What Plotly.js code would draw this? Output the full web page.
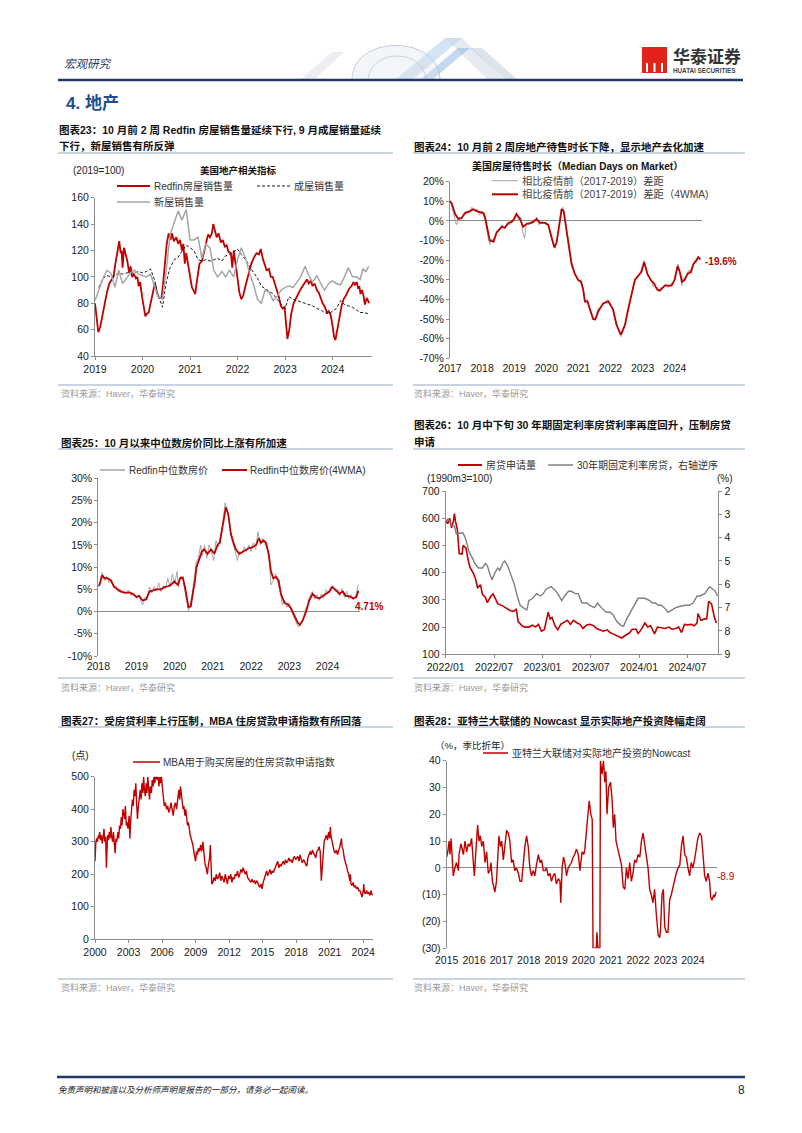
<!DOCTYPE html>
<html><head><meta charset="utf-8">
<script src="https://cdn.plot.ly/plotly-3.0.1.min.js"></script>
<style>html,body{margin:0;padding:0;background:#fff}#page{width:802px;height:1133px}</style>
</head><body><div id="page"></div>
<script>
// ---------------- DATA ----------------
// Chart 23 (2019=100)
const c23Years = [2019,2020,2021,2022,2023,2024];
const c23YTicks = [40,60,80,100,120,140,160];
const redfinSales = [[2019.00,80],[2019.04,65],[2019.07,58],[2019.11,62],[2019.14,68],[2019.19,78],[2019.25,88],[2019.30,95],[2019.35,98],[2019.39,100],[2019.42,108],[2019.46,116],[2019.49,122],[2019.51,127],[2019.54,118],[2019.56,120],[2019.58,107],[2019.61,122],[2019.64,118],[2019.68,112],[2019.72,103],[2019.75,108],[2019.78,100],[2019.82,102],[2019.86,99],[2019.89,100],[2019.92,93],[2019.95,96],[2019.99,85],[2020.03,75],[2020.06,70],[2020.09,72],[2020.13,73],[2020.17,80],[2020.21,88],[2020.26,95],[2020.28,92],[2020.31,87],[2020.35,84],[2020.40,84],[2020.42,90],[2020.47,110],[2020.51,125],[2020.55,133],[2020.59,128],[2020.62,133],[2020.66,127],[2020.71,130],[2020.75,125],[2020.79,128],[2020.83,120],[2020.86,125],[2020.89,110],[2020.92,118],[2020.96,110],[2021.00,100],[2021.04,92],[2021.07,90],[2021.11,87],[2021.15,98],[2021.20,110],[2021.25,112],[2021.29,118],[2021.34,125],[2021.38,132],[2021.42,130],[2021.46,133],[2021.49,140],[2021.53,133],[2021.56,130],[2021.60,133],[2021.65,126],[2021.69,128],[2021.73,123],[2021.77,124],[2021.81,119],[2021.86,118],[2021.89,107],[2021.92,120],[2021.95,112],[2021.99,98],[2022.04,88],[2022.08,83],[2022.12,86],[2022.18,95],[2022.24,103],[2022.29,110],[2022.35,115],[2022.40,118],[2022.45,117],[2022.49,121],[2022.53,114],[2022.57,110],[2022.61,105],[2022.66,106],[2022.70,100],[2022.74,100],[2022.78,95],[2022.82,92],[2022.87,85],[2022.91,78],[2022.95,76],[2022.99,77],[2023.02,62],[2023.05,53],[2023.09,60],[2023.13,72],[2023.18,80],[2023.23,84],[2023.29,88],[2023.35,92],[2023.40,95],[2023.46,98],[2023.50,95],[2023.54,97],[2023.58,93],[2023.62,95],[2023.67,90],[2023.71,88],[2023.75,84],[2023.79,80],[2023.84,77],[2023.88,73],[2023.92,74],[2023.96,71],[2024.00,63],[2024.03,55],[2024.06,52],[2024.10,60],[2024.14,70],[2024.19,78],[2024.23,83],[2024.27,85],[2024.31,88],[2024.35,91],[2024.40,93],[2024.44,96],[2024.47,94],[2024.51,96],[2024.54,91],[2024.56,93],[2024.59,87],[2024.62,90],[2024.65,86],[2024.68,79],[2024.72,84],[2024.75,82],[2024.77,80]];
const existingSales = [[2019.08,92],[2019.17,99],[2019.25,101],[2019.33,100],[2019.42,101],[2019.50,103],[2019.58,102],[2019.67,103],[2019.75,103],[2019.83,103],[2019.92,104],[2020.00,103],[2020.08,104],[2020.17,106],[2020.25,98],[2020.33,86],[2020.42,77],[2020.50,96],[2020.58,107],[2020.67,113],[2020.75,115],[2020.83,119],[2020.92,124],[2021.00,122],[2021.08,120],[2021.17,113],[2021.25,112],[2021.33,113],[2021.42,112],[2021.50,113],[2021.58,114],[2021.67,112],[2021.75,116],[2021.83,117],[2021.92,119],[2022.00,121],[2022.08,117],[2022.17,113],[2022.25,108],[2022.33,104],[2022.42,99],[2022.50,93],[2022.58,91],[2022.67,89],[2022.75,87],[2022.83,83],[2022.92,79],[2023.00,76],[2023.08,85],[2023.17,83],[2023.25,82],[2023.33,81],[2023.42,80],[2023.50,79],[2023.58,78],[2023.67,76],[2023.75,75],[2023.83,73],[2023.92,72],[2024.00,74],[2024.08,76],[2024.17,82],[2024.25,79],[2024.33,78],[2024.42,77],[2024.50,75],[2024.58,73],[2024.67,73],[2024.75,72]];
const newSales = [[2019.00,82],[2019.08,90],[2019.17,99],[2019.25,105],[2019.33,103],[2019.42,92],[2019.50,105],[2019.58,95],[2019.67,99],[2019.75,103],[2019.83,105],[2019.92,102],[2020.00,101],[2020.08,100],[2020.17,102],[2020.25,93],[2020.33,85],[2020.42,83],[2020.50,105],[2020.58,132],[2020.67,142],[2020.75,150],[2020.83,143],[2020.92,151],[2021.00,128],[2021.08,128],[2021.17,130],[2021.25,114],[2021.33,125],[2021.42,122],[2021.50,105],[2021.58,100],[2021.67,104],[2021.75,100],[2021.83,105],[2021.92,100],[2022.00,113],[2022.08,122],[2022.17,114],[2022.25,103],[2022.33,95],[2022.42,83],[2022.50,80],[2022.58,90],[2022.67,88],[2022.75,82],[2022.83,85],[2022.92,90],[2023.00,92],[2023.08,93],[2023.17,92],[2023.25,96],[2023.33,100],[2023.42,108],[2023.50,101],[2023.58,96],[2023.67,101],[2023.75,95],[2023.83,90],[2023.92,95],[2024.00,97],[2024.08,95],[2024.17,94],[2024.25,100],[2024.33,107],[2024.42,100],[2024.50,100],[2024.58,98],[2024.64,106],[2024.70,104],[2024.76,108]];

// Chart 24 (% gap vs 2017-2019)
const c24Years = [2017,2018,2019,2020,2021,2022,2023,2024];
const c24YTicks = [-70,-60,-50,-40,-30,-20,-10,0,10,20];
const domRaw = [[2017.00,11],[2017.08,6],[2017.13,2],[2017.20,-2],[2017.28,2],[2017.36,1],[2017.44,4],[2017.52,5],[2017.60,4],[2017.68,7],[2017.76,5],[2017.84,6],[2017.92,3],[2018.00,5],[2018.06,2],[2018.12,-2],[2018.18,-8],[2018.24,-12],[2018.30,-9],[2018.38,-11],[2018.46,-5],[2018.54,-4],[2018.62,-2],[2018.70,-4],[2018.78,-1],[2018.86,-2],[2018.94,0],[2019.02,2],[2019.08,4],[2019.14,0],[2019.20,2],[2019.26,-5],[2019.32,-9],[2019.38,-1],[2019.46,-2],[2019.54,0],[2019.62,-1],[2019.70,2],[2019.78,-2],[2019.86,0],[2019.94,-1],[2020.02,-1],[2020.10,-4],[2020.16,-9],[2020.22,-12],[2020.28,-14],[2020.34,-9],[2020.40,-1],[2020.46,6],[2020.52,7],[2020.58,2],[2020.64,-7],[2020.70,-14],[2020.78,-23],[2020.86,-26],[2020.94,-29],[2021.02,-31],[2021.10,-30],[2021.16,-36],[2021.22,-42],[2021.28,-40],[2021.36,-46],[2021.44,-49],[2021.52,-51],[2021.60,-45],[2021.70,-44],[2021.80,-42],[2021.90,-40],[2022.00,-42],[2022.08,-46],[2022.16,-52],[2022.24,-55],[2022.32,-59],[2022.40,-56],[2022.48,-51],[2022.56,-44],[2022.64,-39],[2022.72,-32],[2022.80,-29],[2022.88,-28],[2022.96,-25],[2023.04,-20],[2023.10,-24],[2023.16,-28],[2023.24,-29],[2023.32,-33],[2023.40,-34],[2023.48,-36],[2023.56,-34],[2023.64,-34],[2023.72,-32],[2023.80,-34],[2023.88,-32],[2023.96,-31],[2024.04,-26],[2024.10,-22],[2024.16,-27],[2024.22,-33],[2024.28,-29],[2024.36,-28],[2024.44,-25],[2024.52,-27],[2024.60,-21],[2024.68,-21],[2024.74,-18],[2024.80,-20]];
const dom4wma = [[2017.00,10],[2017.05,9],[2017.16,3.5],[2017.26,1],[2017.36,1.5],[2017.47,4],[2017.62,5],[2017.73,6],[2017.83,5],[2017.93,4.5],[2018.04,4],[2018.09,2],[2018.17,-5],[2018.24,-10],[2018.35,-10.5],[2018.45,-6],[2018.61,-3],[2018.71,-3.5],[2018.82,-1],[2018.92,-0.5],[2019.00,1],[2019.07,3.5],[2019.18,1],[2019.28,-3],[2019.39,-1.5],[2019.54,-1],[2019.70,1],[2019.80,-1],[2019.96,-1],[2020.06,-2],[2020.16,-8],[2020.25,-13.5],[2020.32,-11],[2020.39,-3],[2020.48,6],[2020.54,5],[2020.63,-5],[2020.71,-15],[2020.79,-22],[2020.89,-27],[2020.99,-30],[2021.08,-31],[2021.15,-35],[2021.20,-41],[2021.28,-41],[2021.36,-45],[2021.46,-50],[2021.53,-50],[2021.62,-46],[2021.77,-42],[2021.93,-41],[2022.08,-45],[2022.19,-53],[2022.32,-58],[2022.45,-53],[2022.55,-45],[2022.65,-38],[2022.76,-30],[2022.86,-28],[2022.96,-26],[2023.05,-21],[2023.15,-27],[2023.25,-30],[2023.36,-32],[2023.46,-35],[2023.54,-35.5],[2023.69,-33],[2023.90,-33],[2024.00,-30],[2024.09,-23],[2024.16,-26],[2024.23,-31],[2024.31,-30],[2024.40,-27],[2024.50,-26],[2024.58,-22],[2024.68,-20],[2024.73,-18.5],[2024.80,-19.6]];

// Chart 25 (median price YoY, %)
const c25Years = [2018,2019,2020,2021,2022,2023,2024];
const c25YTicks = [-10,-5,0,5,10,15,20,25,30];
const priceRaw = [[2018.00,5.5],[2018.06,7],[2018.10,8.8],[2018.16,7],[2018.22,8],[2018.28,6.5],[2018.34,7.2],[2018.40,5.5],[2018.46,5.8],[2018.52,4.5],[2018.58,5],[2018.66,4],[2018.74,4.6],[2018.80,4.8],[2018.86,3.6],[2018.92,4.2],[2019.00,3],[2019.06,3.8],[2019.12,2.2],[2019.16,1.5],[2019.22,3.2],[2019.28,3],[2019.34,5.5],[2019.40,4.2],[2019.46,5.6],[2019.52,4.6],[2019.58,6.5],[2019.64,4.5],[2019.70,5.8],[2019.76,5.2],[2019.82,7.5],[2019.88,5.5],[2019.94,8.5],[2020.00,6.2],[2020.06,9],[2020.10,5.5],[2020.16,8],[2020.22,7],[2020.27,4.5],[2020.31,2.5],[2020.36,0.2],[2020.41,1.8],[2020.46,4],[2020.52,8],[2020.56,11],[2020.62,12],[2020.68,15],[2020.72,12.5],[2020.78,15],[2020.84,12],[2020.90,15],[2020.96,13.5],[2021.02,11.5],[2021.08,16],[2021.14,14.5],[2021.20,17],[2021.26,20],[2021.32,24.5],[2021.36,23],[2021.42,21],[2021.48,16.5],[2021.54,15],[2021.60,13],[2021.64,11.5],[2021.70,13.5],[2021.76,13],[2021.82,14.5],[2021.88,13.5],[2021.94,15],[2022.00,13.5],[2022.06,15.5],[2022.12,14],[2022.18,18],[2022.24,15],[2022.30,16.5],[2022.36,15],[2022.42,14.5],[2022.48,11],[2022.52,6],[2022.58,7],[2022.64,8.5],[2022.70,6.5],[2022.76,4.5],[2022.82,1.5],[2022.88,2.5],[2022.94,1],[2023.00,2],[2023.06,0],[2023.12,-1.5],[2023.18,-2.5],[2023.24,-3.5],[2023.30,-2.5],[2023.36,-2],[2023.42,0.5],[2023.48,1.5],[2023.54,3.5],[2023.60,4.5],[2023.66,2.8],[2023.72,3.8],[2023.78,2.5],[2023.84,4],[2023.90,3],[2023.96,5],[2024.02,4.2],[2024.08,5.5],[2024.14,5.8],[2024.20,4.5],[2024.26,5],[2024.32,3.5],[2024.38,5.2],[2024.44,3.2],[2024.50,4.6],[2024.56,2.8],[2024.62,3.8],[2024.68,2.6],[2024.74,3.5],[2024.80,6]];
const price4wma = [[2018.00,5.8],[2018.03,6],[2018.10,8.2],[2018.16,7.5],[2018.24,7.5],[2018.33,7],[2018.42,5.5],[2018.51,5],[2018.59,4.5],[2018.72,4.2],[2018.81,4.3],[2018.90,4],[2019.00,3.3],[2019.07,3.5],[2019.16,2.5],[2019.25,2.7],[2019.34,4.5],[2019.42,4.7],[2019.51,5],[2019.64,5],[2019.73,5.5],[2019.82,5.7],[2019.90,6],[2019.99,6.8],[2020.08,6],[2020.14,7.5],[2020.21,7.7],[2020.27,5.5],[2020.31,3],[2020.36,1],[2020.42,1.2],[2020.47,3.5],[2020.53,7],[2020.57,10],[2020.64,12],[2020.71,13.5],[2020.77,14],[2020.86,13],[2020.95,14],[2021.04,13],[2021.12,15],[2021.18,15.5],[2021.25,19],[2021.34,23.5],[2021.40,22],[2021.47,17.5],[2021.54,15.5],[2021.60,14],[2021.69,13],[2021.78,13.5],[2021.87,14],[2021.95,14.3],[2022.04,14.5],[2022.13,15],[2022.20,16.5],[2022.26,15.5],[2022.33,16],[2022.39,15.5],[2022.46,13],[2022.52,9],[2022.58,7.5],[2022.65,7.8],[2022.72,7],[2022.78,4],[2022.87,2],[2022.96,1.6],[2023.04,0.8],[2023.13,-1],[2023.22,-2.5],[2023.28,-3],[2023.35,-2],[2023.44,0],[2023.52,2.5],[2023.61,4],[2023.70,3.2],[2023.79,3],[2023.87,3.5],[2023.96,4],[2024.05,4.5],[2024.12,5.5],[2024.20,5],[2024.31,4],[2024.40,4.5],[2024.48,3.5],[2024.57,3.5],[2024.66,3],[2024.75,3.2],[2024.81,4.71]];

// Chart 26 (applications 1990m3=100; 30y fixed rate %, right axis reversed)
const c26Ticks = [2022,2022.5,2023,2023.5,2024,2024.5];
const c26TickText = ['2022/01','2022/07','2023/01','2023/07','2024/01','2024/07'];
const c26LeftTicks = [100,200,300,400,500,600,700];
const c26RightTicks = [2,3,4,5,6,7,8,9];
const mortgageApps = [[2022.00,590],[2022.02,580],[2022.04,600],[2022.06,565],[2022.08,590],[2022.09,617],[2022.10,590],[2022.12,560],[2022.14,470],[2022.17,468],[2022.18,500],[2022.21,490],[2022.23,450],[2022.25,420],[2022.29,395],[2022.31,375],[2022.33,345],[2022.36,355],[2022.38,320],[2022.41,310],[2022.43,290],[2022.47,315],[2022.49,322],[2022.52,300],[2022.54,285],[2022.59,278],[2022.63,270],[2022.67,260],[2022.70,258],[2022.73,265],[2022.75,220],[2022.79,205],[2022.82,200],[2022.86,200],[2022.90,207],[2022.93,200],[2022.96,210],[2022.99,185],[2023.02,190],[2023.06,255],[2023.08,230],[2023.10,235],[2023.13,205],[2023.16,190],[2023.19,210],[2023.23,220],[2023.26,225],[2023.29,210],[2023.32,225],[2023.36,215],[2023.39,210],[2023.42,195],[2023.46,208],[2023.49,210],[2023.53,205],[2023.56,195],[2023.60,190],[2023.63,185],[2023.67,190],[2023.70,180],[2023.73,175],[2023.79,165],[2023.82,160],[2023.86,170],[2023.90,178],[2023.93,192],[2023.97,192],[2023.99,175],[2024.03,195],[2024.06,215],[2024.09,200],[2024.12,205],[2024.16,175],[2024.19,200],[2024.23,198],[2024.27,195],[2024.31,200],[2024.34,192],[2024.38,195],[2024.41,200],[2024.44,180],[2024.47,210],[2024.50,208],[2024.54,210],[2024.57,205],[2024.60,215],[2024.61,250],[2024.64,225],[2024.68,230],[2024.70,230],[2024.72,295],[2024.75,285],[2024.78,235],[2024.80,215]];
const mortgageRate = [[2022.00,3.3],[2022.02,3.2],[2022.04,3.3],[2022.06,3.5],[2022.09,3.5],[2022.11,3.85],[2022.15,3.8],[2022.18,3.8],[2022.21,4.1],[2022.24,4.6],[2022.28,4.9],[2022.30,5.1],[2022.34,5.3],[2022.38,5.3],[2022.41,5.1],[2022.43,5.2],[2022.46,5.6],[2022.48,5.8],[2022.51,5.5],[2022.54,5.3],[2022.56,5.4],[2022.59,5.1],[2022.61,5.0],[2022.64,5.2],[2022.68,5.65],[2022.71,6.0],[2022.74,6.5],[2022.77,6.9],[2022.80,7.0],[2022.84,7.1],[2022.86,6.7],[2022.90,6.6],[2022.94,6.4],[2022.98,6.5],[2023.01,6.4],[2023.04,6.2],[2023.09,6.1],[2023.12,6.2],[2023.16,6.4],[2023.20,6.7],[2023.23,6.5],[2023.27,6.3],[2023.30,6.3],[2023.34,6.4],[2023.37,6.4],[2023.41,6.8],[2023.46,6.8],[2023.49,6.9],[2023.54,7.0],[2023.57,6.8],[2023.61,7.0],[2023.66,7.2],[2023.70,7.2],[2023.73,7.3],[2023.77,7.6],[2023.81,7.75],[2023.84,7.8],[2023.87,7.5],[2023.91,7.2],[2023.95,6.9],[2023.99,6.6],[2024.03,6.6],[2024.06,6.6],[2024.11,6.7],[2024.14,6.8],[2024.17,6.8],[2024.20,6.9],[2024.23,6.9],[2024.26,7.0],[2024.30,7.2],[2024.34,7.1],[2024.38,7.0],[2024.42,6.95],[2024.48,6.9],[2024.52,6.9],[2024.56,6.8],[2024.60,6.5],[2024.63,6.5],[2024.68,6.4],[2024.71,6.2],[2024.73,6.1],[2024.76,6.2],[2024.79,6.3],[2024.81,6.5]];

// Chart 27 (MBA purchase index, points)
const c27Years = [2000,2003,2006,2009,2012,2015,2018,2021,2024];
const c27YTicks = [0,100,200,300,400,500];
const mbaPurchase = [[2000.00,240],[2000.03,290],[2000.08,300],[2000.15,310],[2000.22,300],[2000.30,320],[2000.35,310],[2000.42,330],[2000.50,305],[2000.58,320],[2000.65,295],[2000.72,310],[2000.80,340],[2000.88,300],[2000.95,315],[2001.02,220],[2001.06,300],[2001.12,320],[2001.20,305],[2001.28,330],[2001.35,310],[2001.42,345],[2001.50,315],[2001.58,300],[2001.65,330],[2001.72,290],[2001.80,265],[2001.88,310],[2001.95,300],[2002.05,330],[2002.12,310],[2002.20,350],[2002.28,340],[2002.35,375],[2002.42,350],[2002.50,400],[2002.58,380],[2002.65,370],[2002.72,410],[2002.80,350],[2002.88,360],[2002.95,340],[2003.05,380],[2003.12,310],[2003.20,370],[2003.28,400],[2003.35,430],[2003.42,410],[2003.50,460],[2003.58,440],[2003.65,480],[2003.72,420],[2003.80,370],[2003.88,410],[2003.95,440],[2004.05,460],[2004.12,430],[2004.20,480],[2004.28,450],[2004.35,500],[2004.42,460],[2004.50,440],[2004.58,480],[2004.65,450],[2004.72,500],[2004.80,460],[2004.88,430],[2004.95,470],[2005.05,450],[2005.12,490],[2005.20,470],[2005.28,500],[2005.35,480],[2005.42,500],[2005.50,500],[2005.58,490],[2005.65,500],[2005.72,470],[2005.80,500],[2005.88,480],[2005.95,500],[2006.05,460],[2006.12,430],[2006.20,410],[2006.30,420],[2006.40,400],[2006.50,410],[2006.60,390],[2006.70,400],[2006.80,420],[2006.90,400],[2007.00,380],[2007.10,410],[2007.20,420],[2007.30,400],[2007.40,440],[2007.50,460],[2007.58,430],[2007.65,470],[2007.72,450],[2007.80,420],[2007.88,400],[2007.95,410],[2008.05,380],[2008.12,400],[2008.20,370],[2008.28,350],[2008.36,360],[2008.44,330],[2008.52,320],[2008.60,310],[2008.68,300],[2008.76,290],[2008.84,270],[2008.92,250],[2009.00,240],[2009.08,270],[2009.16,260],[2009.25,280],[2009.35,270],[2009.45,290],[2009.55,270],[2009.65,300],[2009.75,260],[2009.85,230],[2009.95,220],[2010.05,200],[2010.15,230],[2010.25,250],[2010.32,290],[2010.40,200],[2010.45,170],[2010.55,175],[2010.65,190],[2010.75,180],[2010.85,200],[2010.95,185],[2011.05,190],[2011.15,205],[2011.25,180],[2011.35,195],[2011.45,185],[2011.55,175],[2011.65,200],[2011.75,180],[2011.85,170],[2011.95,195],[2012.05,185],[2012.15,200],[2012.25,175],[2012.35,190],[2012.45,185],[2012.55,200],[2012.65,195],[2012.75,210],[2012.85,190],[2012.95,200],[2013.05,215],[2013.15,205],[2013.25,220],[2013.35,210],[2013.45,200],[2013.55,210],[2013.65,190],[2013.75,185],[2013.85,180],[2013.95,175],[2014.05,185],[2014.15,175],[2014.25,180],[2014.35,170],[2014.45,180],[2014.55,175],[2014.65,165],[2014.75,160],[2014.85,170],[2014.95,155],[2015.05,175],[2015.15,190],[2015.25,200],[2015.35,210],[2015.45,195],[2015.55,205],[2015.65,215],[2015.75,200],[2015.85,210],[2015.95,205],[2016.05,215],[2016.15,225],[2016.25,230],[2016.35,240],[2016.45,220],[2016.55,230],[2016.65,225],[2016.75,235],[2016.85,240],[2016.95,230],[2017.05,245],[2017.15,235],[2017.25,240],[2017.35,250],[2017.45,240],[2017.55,245],[2017.65,235],[2017.75,250],[2017.85,255],[2017.95,245],[2018.05,250],[2018.15,255],[2018.25,240],[2018.35,260],[2018.45,245],[2018.55,235],[2018.65,245],[2018.75,240],[2018.85,230],[2018.95,225],[2019.05,250],[2019.15,265],[2019.25,270],[2019.35,260],[2019.45,275],[2019.55,265],[2019.65,260],[2019.75,250],[2019.85,270],[2019.95,275],[2020.05,285],[2020.15,270],[2020.25,180],[2020.32,215],[2020.40,260],[2020.50,300],[2020.60,310],[2020.70,320],[2020.80,305],[2020.90,330],[2021.00,310],[2021.05,345],[2021.10,320],[2021.20,300],[2021.30,280],[2021.40,270],[2021.50,265],[2021.60,275],[2021.70,260],[2021.80,270],[2021.90,285],[2022.00,300],[2022.05,310],[2022.10,285],[2022.20,275],[2022.30,250],[2022.40,240],[2022.50,225],[2022.60,210],[2022.70,200],[2022.80,180],[2022.85,200],[2022.90,170],[2023.00,165],[2023.10,175],[2023.20,160],[2023.30,165],[2023.40,155],[2023.50,160],[2023.60,150],[2023.70,150],[2023.80,140],[2023.90,130],[2024.00,150],[2024.05,170],[2024.10,145],[2024.20,140],[2024.30,150],[2024.40,140],[2024.50,145],[2024.60,135],[2024.70,150],[2024.75,140],[2024.85,135]];

// Chart 28 (Atlanta Fed nowcast, % q/q saar)
const c28Years = [2015,2016,2017,2018,2019,2020,2021,2022,2023,2024];
const c28YTicks = [-30,-20,-10,0,10,20,30,40];
const c28YTickText = ['(30)','(20)','(10)','0','10','20','30','40'];
const nowcast = [[2015.00,4],[2015.04,6],[2015.09,10],[2015.12,5],[2015.16,11],[2015.21,2],[2015.24,-3],[2015.30,0],[2015.36,2],[2015.43,-1],[2015.45,5],[2015.52,9],[2015.61,5],[2015.67,10],[2015.73,6],[2015.79,9],[2015.85,8],[2015.91,11],[2015.97,3],[2016.01,-3],[2016.06,5],[2016.13,16],[2016.18,10],[2016.23,12],[2016.28,8],[2016.34,10],[2016.40,2],[2016.46,6],[2016.52,-2],[2016.58,-1],[2016.62,2],[2016.67,-5],[2016.72,-7],[2016.76,-9],[2016.82,-5],[2016.86,5],[2016.91,12],[2016.96,8],[2017.01,10],[2017.07,3],[2017.13,8],[2017.19,14],[2017.25,13],[2017.31,10],[2017.37,2],[2017.43,3],[2017.49,-1],[2017.55,0],[2017.62,-2],[2017.68,-5],[2017.74,-5],[2017.80,3],[2017.86,8],[2017.92,12],[2017.98,8],[2018.04,0],[2018.10,-3],[2018.16,-1],[2018.22,-3],[2018.28,1],[2018.35,5],[2018.41,2],[2018.47,3],[2018.53,-1],[2018.59,-1],[2018.65,0],[2018.71,-3],[2018.77,-2],[2018.83,-5],[2018.89,-3],[2018.95,-2],[2019.01,-6],[2019.08,-4],[2019.14,-5],[2019.17,-13],[2019.22,0],[2019.27,4],[2019.32,2],[2019.38,-3],[2019.44,0],[2019.50,1],[2019.56,2],[2019.62,4],[2019.68,5],[2019.74,7],[2019.81,5],[2019.87,-1],[2019.90,2],[2019.95,6],[2020.01,5],[2020.05,7],[2020.11,14],[2020.17,20],[2020.21,25],[2020.27,20],[2020.32,18],[2020.35,-30],[2020.47,-30],[2020.49,-24],[2020.53,-30],[2020.60,-30],[2020.62,40],[2020.68,35],[2020.73,40],[2020.78,32],[2020.82,36],[2020.86,20],[2020.92,30],[2020.99,32],[2021.05,25],[2021.09,15],[2021.14,20],[2021.19,10],[2021.26,7],[2021.33,3],[2021.39,1],[2021.45,-7],[2021.51,-8],[2021.57,0],[2021.63,-4],[2021.69,2],[2021.75,-5],[2021.81,-2],[2021.87,3],[2021.93,2],[2022.00,5],[2022.06,4],[2022.12,10],[2022.18,13],[2022.24,8],[2022.30,4],[2022.36,0],[2022.42,-8],[2022.48,-10],[2022.54,-13],[2022.60,-8],[2022.66,-17],[2022.73,-25],[2022.79,-26],[2022.82,-22],[2022.87,-10],[2022.92,-8],[2022.97,-22],[2023.03,-24],[2023.09,-24],[2023.15,-12],[2023.21,-10],[2023.27,-7],[2023.33,-5],[2023.39,-2],[2023.46,0],[2023.52,1],[2023.58,8],[2023.64,12],[2023.70,5],[2023.76,4],[2023.82,0],[2023.88,-3],[2023.94,2],[2024.00,0],[2024.06,3],[2024.12,8],[2024.18,11],[2024.25,13],[2024.31,12],[2024.37,5],[2024.43,-3],[2024.49,-5],[2024.55,-2],[2024.61,-5],[2024.65,-11],[2024.70,-12],[2024.76,-10],[2024.79,-11],[2024.85,-8.9]];

// ---------------- LAYOUT HELPERS ----------------
const W = 802, H = 1133;
const MIX = 'Liberation Sans, Arial, Noto Sans CJK SC, sans-serif';
const RED = '#C00000', GRAY = '#A6A6A6', AXC = '#8C8C8C', TXT = '#1a1a1a';
const px = x => x / W, py = y => 1 - y / H;

function xAx(x0, x1, range, tickvals, ticktext, anchor, showline, extra) {
  return Object.assign({domain:[px(x0), px(x1)], range, anchor, tickmode:'array', tickvals, ticktext,
    showgrid:false, zeroline:false, showline, linecolor:AXC, linewidth:1,
    ticks: showline ? 'outside' : '', ticklen:3, tickcolor:AXC,
    tickfont:{family:MIX, size:10.5, color:TXT}, fixedrange:true}, extra || {});
}
function yAx(y0, y1, range, tickvals, ticktext, anchor, extra) {
  return Object.assign({domain:[py(y1), py(y0)], range, anchor, tickmode:'array', tickvals, ticktext,
    showgrid:false, zeroline:false, showline:true, linecolor:AXC, linewidth:1,
    ticks:'outside', ticklen:3, tickcolor:AXC,
    tickfont:{family:MIX, size:10.5, color:TXT}, fixedrange:true}, extra || {});
}
function tr(pairs, xa, ya, color, width, dash) {
  return {type:'scatter', mode:'lines', x:pairs.map(p => p[0]), y:pairs.map(p => p[1]),
    xaxis:xa, yaxis:ya, line:{color, width, dash:dash || 'solid'}, hoverinfo:'skip', showlegend:false};
}
function T(x, y, text, size, color, o) {
  o = o || {};
  return {xref:'paper', yref:'paper', x:px(x), y:py(y), text, showarrow:false,
    xanchor:o.anchor || 'left', yanchor:'middle', borderpad:0,
    font:{family:MIX, size, color, weight:o.bold ? 700 : 400, style:o.italic ? 'italic' : 'normal'}};
}
function L(x0, y0, x1, y1, color, width, dash) {
  return {type:'line', xref:'paper', yref:'paper', x0:px(x0), y0:py(y0), x1:px(x1), y1:py(y1),
    line:{color, width, dash:dash || 'solid'}, layer:'above'};
}
function P(pts, fill, line) {
  let d = pts.map((p, i) => (i ? 'L' : 'M') + px(p[0]).toFixed(5) + ',' + py(p[1]).toFixed(5)).join(' ') + ' Z';
  return {type:'path', xref:'paper', yref:'paper', path:d, fillcolor:fill, line:{color:line || 'rgba(0,0,0,0)', width:line ? 1 : 0}, layer:'below'};
}
function pct(v) { return v + '%'; }

// ---------------- TRACES ----------------
const DASH = '3px,2px';
const data = [
  tr(redfinSales, 'x', 'y', RED, 1.8),
  tr(existingSales, 'x', 'y', '#1a1a1a', 1, DASH),
  tr(newSales, 'x', 'y', GRAY, 1.5),
  tr(domRaw, 'x2', 'y2', GRAY, 1),
  tr(dom4wma, 'x2', 'y2', RED, 1.8),
  tr(priceRaw, 'x3', 'y3', GRAY, 1),
  tr(price4wma, 'x3', 'y3', RED, 1.8),
  tr(mortgageApps, 'x4', 'y4', RED, 1.6),
  tr(mortgageRate, 'x4', 'y7', '#7F7F7F', 1.4),
  tr(mbaPurchase, 'x5', 'y5', RED, 1.4),
  tr(nowcast, 'x6', 'y6', RED, 1.4)
];

// ---------------- SHAPES ----------------
const SEP = '#B7C5D8';
const shapes = [
  // header decoration (faded globe & chevrons)
  P([[300,80],[332,52],[344,52],[314,80]], 'rgba(200,205,215,0.35)'),
  P([[395,80],[445,38],[462,38],[412,80]], 'rgba(160,195,230,0.45)'),
  P([[445,38],[462,38],[505,80],[488,80]], 'rgba(200,210,225,0.45)'),
  P([[420,80],[458,48],[470,48],[432,80]], 'rgba(120,170,220,0.45)'),
  P([[470,48],[482,48],[518,80],[506,80]], 'rgba(170,185,205,0.40)'),
  {type:'path', xref:'paper', yref:'paper', layer:'below',
   path:'M'+px(352)+','+py(80)+' C'+px(352)+','+py(34)+' '+px(440)+','+py(34)+' '+px(440)+','+py(80)+' Z',
   fillcolor:'rgba(220,226,235,0.35)', line:{color:'rgba(175,185,200,0.7)', width:1}},
  {type:'path', xref:'paper', yref:'paper', layer:'below',
   path:'M'+px(368)+','+py(80)+' C'+px(370)+','+py(48)+' '+px(424)+','+py(48)+' '+px(426)+','+py(80),
   line:{color:'rgba(175,185,200,0.6)', width:1}},
  L(58, 80, 743, 80, '#1F3864', 2.5),
  // logo
  {type:'rect', xref:'paper', yref:'paper', x0:px(642), x1:px(667), y0:py(73), y1:py(47), fillcolor:'#E2231A', line:{width:0}},
  P([[654.5,49],[660,55],[654.5,61],[649,55]], '#ffffff'),
  P([[645,52],[649,56],[645,60]], '#ffffff'),
  P([[664,52],[660,56],[664,60]], '#ffffff'),
  L(647, 63, 647, 72, '#ffffff', 2), L(654.5, 63, 654.5, 72, '#ffffff', 2), L(662, 63, 662, 72, '#ffffff', 2),
  // title separators
  L(58, 153, 393, 153, SEP, 1.5), L(413, 153, 745, 153, SEP, 1.5),
  L(58, 449, 393, 449, SEP, 1.5), L(413, 449, 745, 449, SEP, 1.5),
  L(58, 727, 393, 727, SEP, 1.5), L(413, 727, 745, 727, SEP, 1.5),
  // source separators
  L(58, 385, 393, 385, SEP, 1.5), L(413, 385, 745, 385, SEP, 1.5),
  L(58, 678, 393, 678, SEP, 1.5), L(413, 678, 745, 678, SEP, 1.5),
  L(58, 979, 393, 979, SEP, 1.5), L(413, 979, 745, 979, SEP, 1.5),
  // legends
  L(117, 186, 150, 186, RED, 2), L(257, 186, 290, 186, '#1a1a1a', 1, DASH), L(117, 202, 150, 202, GRAY, 1.5),
  L(492, 180.7, 518, 180.7, GRAY, 1), L(492, 194.3, 518, 194.3, RED, 2),
  L(100, 470, 125, 470, GRAY, 1.5), L(222, 470, 247, 470, RED, 2),
  L(458, 465, 482, 465, RED, 2), L(548, 465, 573, 465, '#7F7F7F', 1.5),
  L(133, 762, 160, 762, RED, 1.5),
  L(483, 753, 508, 753, RED, 1.5),
  // footer
  L(57, 1077, 745, 1077, '#1F3864', 2.5)
];

// ---------------- ANNOTATIONS ----------------
const SRC = '资料来源：Haver，华泰研究';
const annotations = [
  T(63, 64, '宏观研究', 11.5, '#1F3864', {italic:true}),
  T(672, 57, '华泰证券', 17, '#333333', {bold:true}),
  T(672, 70, 'HUATAI SECURITIES', 6.3, '#444444', {bold:true}),
  T(65, 103, '4. 地产', 17, '#1F4E8C', {bold:true}),
  T(58, 130, '图表23：10 月前 2 周 Redfin 房屋销售量延续下行, 9 月成屋销量延续', 10.5, '#111', {bold:true}),
  T(58, 146, '下行，新屋销售有所反弹', 10.5, '#111', {bold:true}),
  T(413, 147, '图表24：10 月前 2 周房地产待售时长下降，显示地产去化加速', 10.5, '#111', {bold:true}),
  T(60, 442.7, '图表25：10 月以来中位数房价同比上涨有所加速', 10.5, '#111', {bold:true}),
  T(413, 425, '图表26：10 月中下旬 30 年期固定利率房贷利率再度回升，压制房贷', 10.5, '#111', {bold:true}),
  T(413, 441.7, '申请', 10.5, '#111', {bold:true}),
  T(60, 720.7, '图表27：受房贷利率上行压制，MBA 住房贷款申请指数有所回落', 10.5, '#111', {bold:true}),
  T(413, 720.7, '图表28：亚特兰大联储的 Nowcast 显示实际地产投资降幅走阔', 10.5, '#111', {bold:true}),
  // chart 23
  T(72, 170, '(2019=100)', 10, '#222'),
  T(239, 170, '美国地产相关指标', 9.5, '#111', {bold:true, anchor:'center'}),
  T(153, 186, 'Redfin房屋销售量', 10, '#333'),
  T(293, 186, '成屋销售量', 10, '#333'),
  T(153, 202, '新屋销售量', 10, '#333'),
  // chart 24
  T(577, 166, '美国房屋待售时长（Median Days on Market）', 10, '#111', {bold:true, anchor:'center'}),
  T(521, 180.7, '相比疫情前（2017-2019）差距', 10.3, '#444'),
  T(521, 194.3, '相比疫情前（2017-2019）差距（4WMA)', 10.3, '#444'),
  T(704, 261, '-19.6%', 10, RED, {bold:true}),
  // chart 25
  T(128, 470, 'Redfin中位数房价', 10, '#333'),
  T(249, 470, 'Redfin中位数房价(4WMA)', 10, '#333'),
  T(354, 606, '4.71%', 10, RED, {bold:true}),
  // chart 26
  T(485, 465, '房贷申请量', 10, '#333'),
  T(576, 465, '30年期固定利率房贷，右轴逆序', 10, '#333'),
  T(426, 479, '(1990m3=100)', 10, '#222'),
  T(716, 479, '(%)', 10, '#222'),
  // chart 27
  T(71, 755, '(点)', 10, '#222'),
  T(162, 762, 'MBA用于购买房屋的住房贷款申请指数', 10, '#333'),
  // chart 28
  T(434, 745, '（%，季比折年）', 9.5, '#222'),
  T(511, 753, '亚特兰大联储对实际地产投资的Nowcast', 10, '#333'),
  T(716, 876.7, '-8.9', 10, RED),
  // sources
  T(60, 393, SRC, 9, '#9a9a9a'), T(413, 393, SRC, 9, '#9a9a9a'),
  T(60, 687, SRC, 9, '#9a9a9a'), T(413, 687, SRC, 9, '#9a9a9a'),
  T(60, 987, SRC, 9, '#9a9a9a'), T(413, 987, SRC, 9, '#9a9a9a'),
  // footer
  T(57, 1090, '免责声明和披露以及分析师声明是报告的一部分，请务必一起阅读。', 8.5, '#222', {italic:true}),
  T(737, 1090, '8', 12, '#222')
];

// ---------------- AXES ----------------
const layout = {
  width: W, height: H, margin:{l:0, r:0, t:0, b:0}, paper_bgcolor:'#ffffff', plot_bgcolor:'rgba(0,0,0,0)',
  showlegend:false, font:{family:MIX}, shapes, annotations,
  // chart 23
  xaxis:  xAx(95, 372, [2019, 2024.83], c23Years, c23Years.map(String), 'y', true),
  yaxis:  yAx(197.7, 356, [40, 160], c23YTicks, c23YTicks.map(String), 'x'),
  // chart 24
  xaxis2: xAx(450, 702, [2017, 2024.85], c24Years, c24Years.map(String), 'y2', false, {ticklabelstandoff:2}),
  yaxis2: yAx(181.7, 358.3, [-70, 20], c24YTicks, c24YTicks.map(pct), 'x2', {zeroline:true, zerolinecolor:AXC, zerolinewidth:1}),
  // chart 25
  xaxis3: xAx(98.3, 360, [2018, 2024.85], c25Years, c25Years.map(String), 'y3', false, {ticklabelstandoff:2}),
  yaxis3: yAx(478.3, 656, [-10, 30], c25YTicks, c25YTicks.map(pct), 'x3', {zeroline:true, zerolinecolor:AXC, zerolinewidth:1}),
  // chart 26
  xaxis4: xAx(445.7, 718.3, [2022, 2024.82], c26Ticks, c26TickText, 'y4', true),
  yaxis4: yAx(491, 654.3, [100, 700], c26LeftTicks, c26LeftTicks.map(String), 'x4'),
  yaxis7: Object.assign(yAx(491, 654.3, [9, 2], c26RightTicks, c26RightTicks.map(String), 'x4'), {overlaying:'y4', side:'right'}),
  // chart 27
  xaxis5: xAx(95, 373.3, [2000, 2024.9], c27Years, c27Years.map(String), 'y5', true),
  yaxis5: yAx(776.7, 939.3, [0, 500], c27YTicks, c27YTicks.map(String), 'x5'),
  // chart 28
  xaxis6: xAx(446.7, 716.7, [2015, 2024.87], c28Years, c28Years.map(String), 'y6', false, {ticklabelstandoff:4}),
  yaxis6: yAx(760.7, 948.3, [-30, 40], c28YTicks, c28YTickText, 'x6', {zeroline:true, zerolinecolor:AXC, zerolinewidth:1})
};

Plotly.newPlot('page', data, layout, {staticPlot:true, displayModeBar:false});
</script>
</body></html>
